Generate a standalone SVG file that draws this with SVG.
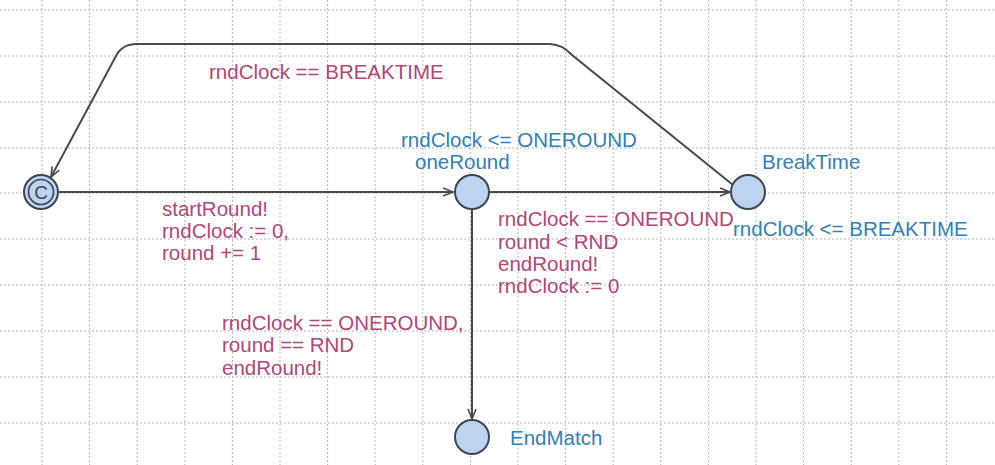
<svg xmlns="http://www.w3.org/2000/svg" width="995" height="465" viewBox="0 0 995 465">
  <style>
    .grid { stroke: #b4b4b4; stroke-width: 1; stroke-dasharray: 2 2; fill: none; }
    .edge { stroke: #4a4a4a; stroke-width: 2; fill: none; }
    .loc { fill: #bcd4f0; stroke: #3c4650; stroke-width: 2; }
    .lbl { font-family: "Liberation Sans", Arial, sans-serif; font-size: 20.5px; }
    .guard { fill: #b0467c; }
    .inv { fill: #2f80bd; }
  </style>
  <defs>
    <marker id="arrow" viewBox="0 0 12 10" refX="11" refY="5" markerWidth="12" markerHeight="10" markerUnits="userSpaceOnUse" orient="auto">
      <path d="M1 1 L11 5 L1 9" fill="none" stroke="#4a4a4a" stroke-width="1.6"/>
    </marker>
  </defs>
  <rect width="995" height="465" fill="#ffffff"/>

  <!-- background grid -->
  <g id="grid">
    <path class="grid" d="M42 0V465 M89.6 0V465 M137.2 0V465 M184.8 0V465 M232.4 0V465 M280 0V465 M327.6 0V465 M375.2 0V465 M422.8 0V465 M470.4 0V465 M518 0V465 M565.6 0V465 M613.2 0V465 M660.8 0V465 M708.4 0V465 M756 0V465 M803.6 0V465 M851.2 0V465 M898.8 0V465 M946.4 0V465"/>
    <path class="grid" d="M0 10H995 M0 56H995 M0 102H995 M0 148H995 M0 193H995 M0 239H995 M0 285H995 M0 331H995 M0 377H995 M0 423H995"/>
  </g>

  <!-- transitions -->
  <g id="edges">
    <path class="edge" marker-end="url(#arrow)" d="M59 192 H453"/>
    <path class="edge" marker-end="url(#arrow)" d="M489 192 H730"/>
    <path class="edge" marker-end="url(#arrow)" d="M472 209 V419"/>
    <path class="edge" marker-end="url(#arrow)" d="M733 185 L572 55 Q562 44 549 44 H137 Q122 44 116 56 L51 177"/>
  </g>

  <!-- edge labels -->
  <g id="edge-labels" class="lbl guard">
    <text x="209" y="79">rndClock == BREAKTIME</text>
    <text x="162" y="216">startRound!</text>
    <text x="162" y="238">rndClock := 0,</text>
    <text x="162" y="260">round += 1</text>
    <text x="498" y="226">rndClock == ONEROUND</text>
    <text x="498" y="249">round &lt; RND</text>
    <text x="498" y="271">endRound!</text>
    <text x="498" y="293">rndClock := 0</text>
    <text x="222" y="330">rndClock == ONEROUND,</text>
    <text x="222" y="352">round == RND</text>
    <text x="222" y="375">endRound!</text>
  </g>

  <!-- locations -->
  <g id="start">
    <circle class="loc" cx="41" cy="192" r="17"/>
    <circle cx="41" cy="192" r="12.5" fill="none" stroke="#3c4650" stroke-width="1.6"/>
    <text x="41" y="199" text-anchor="middle" font-family="Liberation Sans, Arial, sans-serif" font-size="19" fill="#3c4650">C</text>
  </g>
  <g id="oneRound">
    <circle class="loc" cx="472" cy="192" r="17"/>
    <text class="lbl inv" x="401" y="147">rndClock &lt;= ONEROUND</text>
    <text class="lbl inv" x="415" y="169">oneRound</text>
  </g>
  <g id="BreakTime">
    <circle class="loc" cx="748" cy="192" r="17"/>
    <text class="lbl inv" x="762" y="169">BreakTime</text>
    <text class="lbl inv" x="733" y="236">rndClock &lt;= BREAKTIME</text>
  </g>
  <g id="EndMatch">
    <circle class="loc" cx="472" cy="437" r="17"/>
    <text class="lbl inv" x="510" y="445">EndMatch</text>
  </g>
</svg>
